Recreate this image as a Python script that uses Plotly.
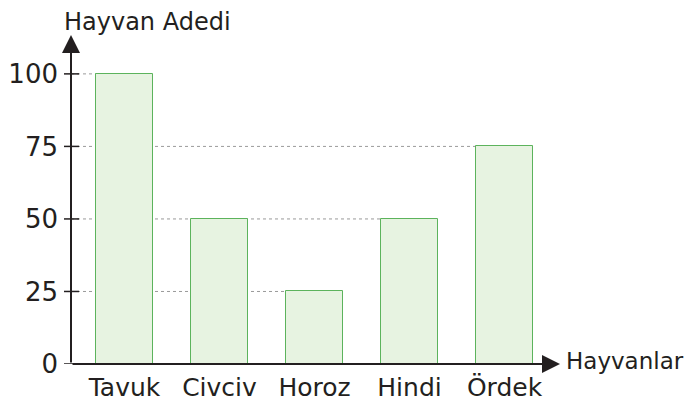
import plotly.graph_objects as go

categories = ["Tavuk", "Civciv", "Horoz", "Hindi", "Ördek"]
values = [100, 50, 25, 50, 75]
y_ticks = [0, 25, 50, 75, 100]
y_title = "Hayvan Adedi"
x_title = "Hayvanlar"

# page body has an 8px default margin, so the figure is drawn offset by (8, 8)
OFF = 8
W, H = 693 - OFF, 411 - OFF
ml, mr, mt, mb = 71 - OFF, 133, 35 - OFF, 47
pw, ph = W - ml - mr, H - mt - mb
xr = [-0.563, 4.584]
yr = [0, 113.4]
bar_w = 0.6
ink = "#231f20"
FONT = "DejaVu Sans"

idx = list(range(len(categories)))
fig = go.Figure(go.Bar(
    x=idx, y=values, width=bar_w,
    marker=dict(color="#e7f3e1", line=dict(color="#5cb35c", width=1)),
))

shapes = []
# dotted guide lines from axis to the rightmost bar of that height
for t in y_ticks[1:]:
    hits = [i for i, v in enumerate(values) if v == t]
    if hits:
        shapes.append(dict(type="line", layer="below", xref="x", yref="y",
                           x0=xr[0], x1=max(hits) - bar_w / 2, y0=t, y1=t,
                           line=dict(color="#9a9a9a", width=1, dash="dot")))
# tick marks crossing the axis
for t in y_ticks:
    shapes.append(dict(type="line", xref="paper", yref="y",
                       x0=-7 / pw, x1=(8 if t else 15) / pw, y0=t, y1=t,
                       line=dict(color=ink, width=1.5)))

annotations = [
    # y axis arrow
    dict(x=xr[0], y=yr[1], ax=xr[0], ay=0, xref="x", yref="y", axref="x", ayref="y",
         showarrow=True, arrowhead=2, arrowsize=1.8, arrowwidth=2, arrowcolor=ink,
         standoff=0, startstandoff=0, text=""),
    # x axis arrow
    dict(x=xr[1], y=0, ax=xr[0], ay=0, xref="x", yref="y", axref="x", ayref="y",
         showarrow=True, arrowhead=2, arrowsize=1.8, arrowwidth=2, arrowcolor=ink,
         standoff=0, startstandoff=0, text=""),
    dict(text=y_title, xref="paper", yref="paper", x=(62 - 71) / pw, y=1 + (35 - 22) / ph,
         xanchor="left", yanchor="middle", showarrow=False,
         font=dict(family=FONT, size=24, color=ink)),
    dict(text=x_title, xref="paper", yref="paper", x=(564 - 71) / pw, y=(364 - 361) / ph,
         xanchor="left", yanchor="middle", showarrow=False,
         font=dict(family=FONT, size=23, color=ink)),
]

fig.update_layout(
    width=W, height=H,
    margin=dict(l=ml, r=mr, t=mt, b=mb, pad=0, autoexpand=False),
    paper_bgcolor="white", plot_bgcolor="white",
    showlegend=False,
    shapes=shapes, annotations=annotations,
    bargap=0,
    xaxis=dict(range=xr, tickvals=idx, ticktext=categories, showgrid=False, zeroline=False,
               showline=False, ticks="", ticklabelstandoff=6, automargin=False,
               tickfont=dict(family=FONT, size=25, color=ink), fixedrange=True),
    yaxis=dict(range=yr, tickvals=y_ticks, ticktext=[str(t) for t in y_ticks], showgrid=False,
               zeroline=False, showline=False, ticks="", ticklabelstandoff=12, automargin=False,
               tickfont=dict(family=FONT, size=26, color=ink), fixedrange=True),
)

fig.write_html("out.html")
